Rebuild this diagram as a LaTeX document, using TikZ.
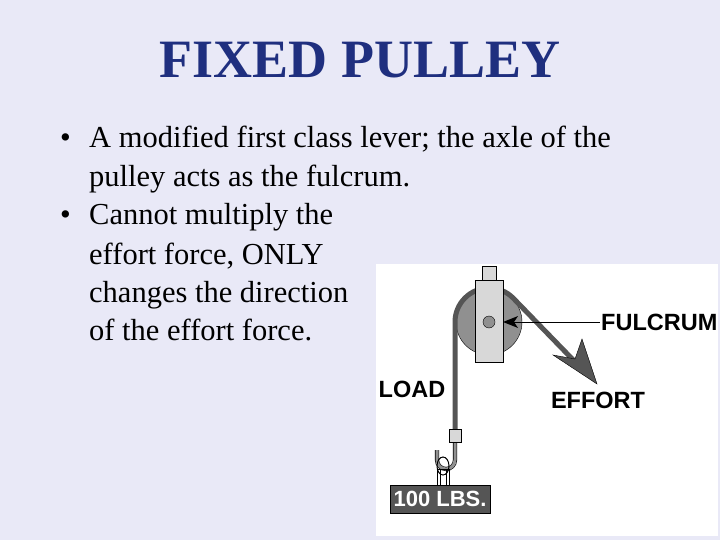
\documentclass[tikz,border=0pt]{standalone}
\usepackage{fontspec}
\setmainfont{Liberation Serif}
\newfontfamily\sansf{Liberation Sans}
\definecolor{bg}{HTML}{E9E9F7}
\definecolor{navy}{HTML}{1F2F7F}
\definecolor{rope}{HTML}{555555}
\definecolor{wheel}{HTML}{909090}
\definecolor{brack}{HTML}{D8D8D8}
\tikzset{body/.style={anchor=base west,font=\fontsize{30.5}{30}\selectfont,inner sep=0},
lbl/.style={font=\sansf\bfseries\fontsize{23.5}{23.5}\selectfont,inner sep=0}}
\begin{document}
\begin{tikzpicture}[x=1pt,y=-1pt]
\fill[bg] (0,0) rectangle (720,540);
\node[font=\bfseries\fontsize{54}{54}\selectfont,text=navy] (title) at (360,60) {FIXED PULLEY};
\node[body] (b1) at (60,148) {•};
\node[body] (l1) at (89,148) {A modified first class lever; the axle of the};
\node[body] (l2) at (89,187) {pulley acts as the fulcrum.};
\node[body] (b2) at (60,225) {•};
\node[body] (l3) at (89,225) {Cannot multiply the};
\node[body] (l4) at (89,264) {effort force, ONLY};
\node[body] (l5) at (89,302) {changes the direction};
\node[body] (l6) at (89,340) {of the effort force.};
% picture panel
\fill[white] (376,264) rectangle (718,536);
% wheel
\draw[black,fill=wheel] (489,322) circle (33);
% rope
\draw[rope,line width=5pt] (455,430) -- (455,322) arc[start angle=180,end angle=315,radius=34] -- (581,368);
\fill[rope,draw=black] (597,384) -- (553,355) -- (575,359) -- (582,339) -- cycle;
% bracket
\draw[black,fill=brack] (482,266) rectangle (496,280);
\draw[black,fill=brack] (475,280) rectangle (503,362);
\draw[black,fill=wheel] (489,322) circle (6);
% fulcrum line and arrow
\coordinate (fl) at (600,322);
\draw[black] (fl) -- (512,322);
\fill[black] (503,322) -- (518,316) -- (514,322) -- (518,328) -- cycle;
\node[lbl,anchor=west] (ful) at (601,322) {FULCRUM};
\node[lbl] (load) at (412,389) {LOAD};
\node[lbl] (eff) at (598,400) {EFFORT};
% hook
\draw[black,line width=4.2pt] (455,442) -- (455,460) arc[start angle=0,end angle=180,radius=9] -- (437,450);
\draw[wheel,line width=3pt] (455,442) -- (455,460) arc[start angle=0,end angle=180,radius=9] -- (437,450);
\draw[black,fill=brack] (449,429) rectangle (461,442);
\draw[black] (437,469) rectangle (449,485);
\draw[black] (440,469) rectangle (446,485);
\draw[black,line width=1pt] (443,466) ellipse (6 and 9);
% weight
\node[fill=rope,draw=black,minimum width=100,minimum height=28,inner sep=0,text=white,font=\sansf\bfseries\fontsize{22}{22}\selectfont] (w) at (440,499) {100 LBS.};
\end{tikzpicture}
\end{document}
